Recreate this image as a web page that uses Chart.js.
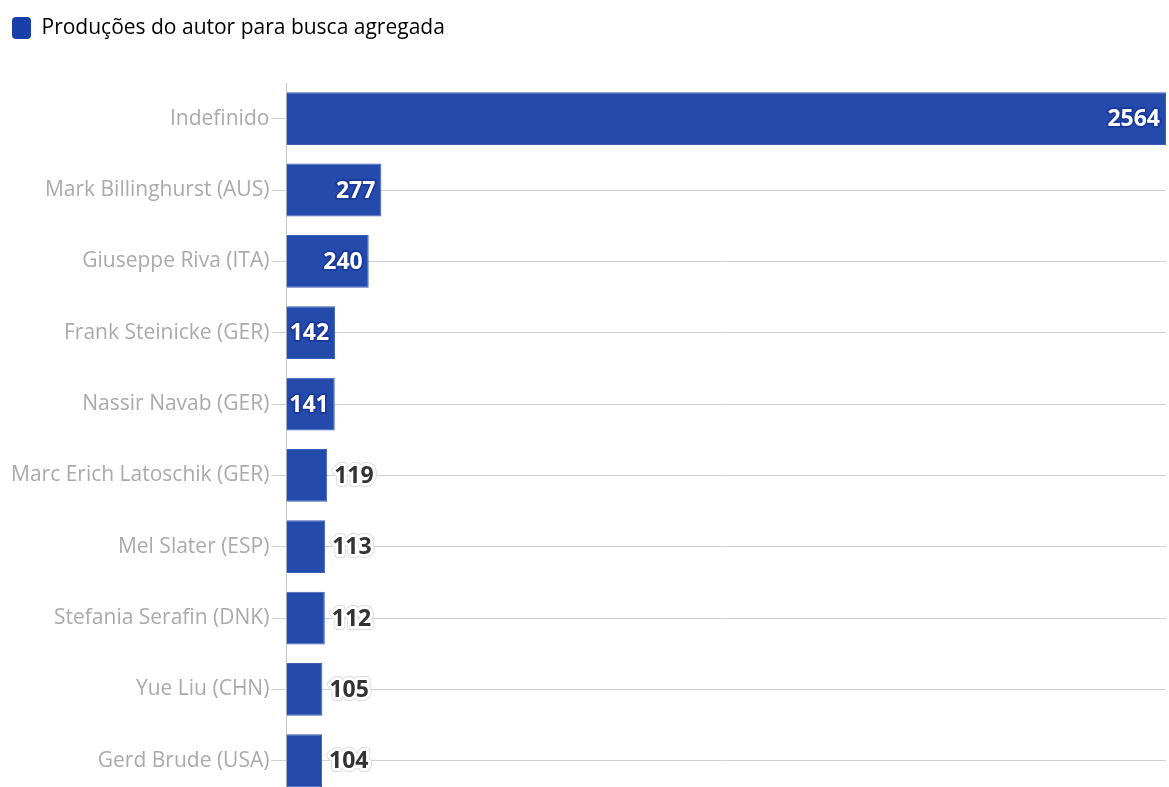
<!DOCTYPE html>
<html>
<head>
<meta charset="utf-8">
<script src="https://cdn.jsdelivr.net/npm/chart.js@4.4.1/dist/chart.umd.min.js"></script>
<style>
  html, body { margin: 0; padding: 0; background: #fff; overflow: hidden; }
  #wrap { width: 1169px; height: 811px; }
</style>
</head>
<body>
<div id="wrap"><canvas id="myChart" width="1169" height="811"></canvas></div>
<script>
var authors = ["Indefinido", "Mark Billinghurst (AUS)", "Giuseppe Riva (ITA)", "Frank Steinicke (GER)",
  "Nassir Navab (GER)", "Marc Erich Latoschik (GER)", "Mel Slater (ESP)", "Stefania Serafin (DNK)",
  "Yue Liu (CHN)", "Gerd Brude (USA)"];
var productions = [2564, 277, 240, 142, 141, 119, 113, 112, 105, 104];
var seriesName = "Produções do autor para busca agregada";

// draws the value next to / inside each bar
var valueLabels = {
  id: "valueLabels",
  afterDatasetsDraw: function (chart) {
    var ctx = chart.ctx;
    var meta = chart.getDatasetMeta(0);
    ctx.save();
    ctx.font = "bold 23px 'Open Sans', sans-serif";
    ctx.textBaseline = "middle";
    ctx.lineJoin = "round";
    meta.data.forEach(function (bar, i) {
      var txt = String(productions[i]);
      var w = ctx.measureText(txt).width;
      var barW = bar.x - bar.base;
      if (w + 4 < barW) {
        ctx.textAlign = "right";
        var tx = bar.x - 6;
        ctx.strokeStyle = "#1a3a9c";
        ctx.lineWidth = 4;
        ctx.strokeText(txt, tx, bar.y + 1);
        ctx.fillStyle = "#fff";
        ctx.fillText(txt, tx, bar.y + 1);
      } else {
        ctx.textAlign = "left";
        var lx = bar.x + 7;
        ctx.strokeStyle = "#dddddd";
        ctx.lineWidth = 8;
        ctx.strokeText(txt, lx, bar.y + 1);
        ctx.strokeStyle = "#fff";
        ctx.lineWidth = 6;
        ctx.strokeText(txt, lx, bar.y + 1);
        ctx.fillStyle = "#333";
        ctx.fillText(txt, lx, bar.y + 1);
      }
    });
    ctx.restore();
  }
};

// extra room under the legend
var legendGap = {
  id: "legendGap",
  beforeInit: function (chart) {
    var fit = chart.legend.fit;
    chart.legend.fit = function () {
      fit.bind(chart.legend)();
      this.height += 34;
    };
  }
};

var ctx = document.getElementById("myChart").getContext("2d");
var chart = new Chart(ctx, {
  type: "bar",
  data: {
    labels: authors,
    datasets: [{
      label: seriesName,
      data: productions,
      backgroundColor: "#244bac",
      borderColor: "#3d5fb8",
      borderWidth: 1,
      borderSkipped: "left",
      categoryPercentage: 0.74,
      barPercentage: 1
    }]
  },
  options: {
    responsive: false,
    animation: false,
    indexAxis: "y",
    layout: { padding: { left: 9, right: 3, top: 14, bottom: 5 } },
    plugins: {
      legend: {
        position: "top",
        align: "start",
        labels: {
          boxWidth: 19,
          boxHeight: 22,
          useBorderRadius: true,
          borderRadius: 4,
          padding: 3,
          color: "#333",
          font: { family: "'Open Sans', sans-serif", size: 21 },
          generateLabels: function () {
            return [{ text: seriesName, fillStyle: "#1a3fa8", strokeStyle: "#1a3fa8", lineWidth: 0, borderRadius: 4 }];
          }
        }
      },
      tooltip: { enabled: false }
    },
    scales: {
      x: {
        min: 0,
        max: 2564,
        display: false
      },
      y: {
        ticks: {
          color: "#aaaaaa",
          padding: 2,
          font: { family: "'Open Sans', sans-serif", size: 21 }
        },
        grid: { offset: false, color: "#d0d0d0", tickLength: 15, lineWidth: 1 },
        border: { display: true, color: "#c8c8c8", width: 1 }
      }
    }
  },
  plugins: [valueLabels, legendGap]
});
</script>
</body>
</html>
